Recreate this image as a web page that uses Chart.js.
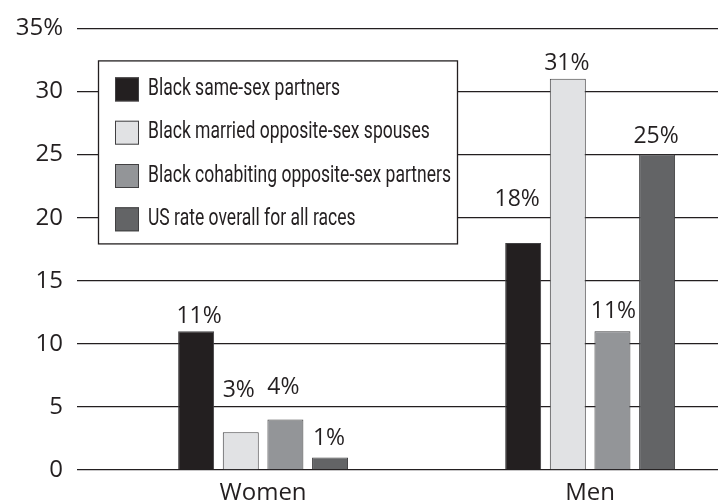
<!DOCTYPE html>
<html>
<head>
<meta charset="utf-8">
<script src="https://cdn.jsdelivr.net/npm/chart.js@4.4.1/dist/chart.umd.min.js"></script>
<style>
  html, body { margin: 0; padding: 0; background: #fff; }
</style>
</head>
<body>
<canvas id="grafico" width="718" height="502"></canvas>
<script>
const grupos = ["Women", "Men"];
const series = [
  "Black same-sex partners",
  "Black married opposite-sex spouses",
  "Black cohabiting opposite-sex partners",
  "US rate overall for all races"
];
const sameSex = [11, 18];
const married = [3, 31];
const cohabiting = [4, 11];
const usOverall = [1, 25];
const yTicks = [0, 5, 10, 15, 20, 25, 30, 35];

const valores = [sameSex, married, cohabiting, usOverall];
const colores = ["#231f20", "#e1e2e4", "#939598", "#636466"];
// how far each % label sits above its bar: [dx, lift]
const etiquetaPos = [
  [[3, 15], [-6, 43]],
  [[-2, 42], [-1, 15]],
  [[-2, 32], [1, 20]],
  [[-1, 19], [-1, 18]]
];
const tinta = "#231f20";
const fuenteNum = "'Open Sans', 'Noto Sans', sans-serif";
const fuenteLeyenda = "Roboto, 'Noto Sans', sans-serif";

const etiquetas = {
  id: "etiquetas",
  afterDatasetsDraw(chart) {
    const ctx = chart.ctx;
    ctx.save();
    ctx.font = "23px " + fuenteNum;
    ctx.fillStyle = tinta;
    ctx.textAlign = "center";
    ctx.textBaseline = "middle";
    chart.data.datasets.forEach((ds, i) => {
      chart.getDatasetMeta(i).data.forEach((bar, j) => {
        const [dx, dy] = etiquetaPos[i][j];
        ctx.fillText(ds.data[j].y + "%", bar.x + dx, bar.y - dy);
      });
    });
    ctx.restore();
  }
};

const leyenda = {
  id: "leyendaCaja",
  afterDraw(chart) {
    const ctx = chart.ctx;
    const x0 = chart.chartArea.left + 21;
    const y0 = chart.chartArea.top + 32;
    ctx.save();
    ctx.fillStyle = "#fff";
    ctx.fillRect(x0, y0, 360, 184);
    ctx.strokeStyle = tinta;
    ctx.lineWidth = 1.3;
    ctx.strokeRect(x0 + 0.5, y0 + 0.5, 359, 183);
    ctx.font = "23px " + fuenteLeyenda;
    ctx.textBaseline = "middle";
    // condensed look: squeeze so the longest entry fits the box
    const mas = Math.max(...chart.data.datasets.map(d => ctx.measureText(d.label).width));
    const k = Math.min(1, 303 / mas);
    chart.data.datasets.forEach((ds, i) => {
      const y = y0 + 17 + i * 43.3;
      ctx.fillStyle = ds.backgroundColor;
      ctx.fillRect(x0 + 17, y, 24, 24);
      ctx.strokeStyle = "#414042";
      ctx.lineWidth = 1;
      ctx.strokeRect(x0 + 17.5, y + 0.5, 23, 23);
      ctx.fillStyle = tinta;
      ctx.save();
      ctx.translate(x0 + 50, y + 12);
      ctx.scale(k, 1);
      ctx.fillText(ds.label, 0, 0);
      ctx.restore();
    });
    ctx.restore();
  }
};

new Chart(document.getElementById("grafico"), {
  type: "bar",
  data: {
    datasets: series.map((nombre, i) => ({
      label: nombre,
      data: valores[i].map((v, j) => ({ x: j, y: v })),
      backgroundColor: colores[i],
      borderColor: "#414042",
      borderWidth: 1,
      categoryPercentage: 0.546,
      barPercentage: 0.806
    }))
  },
  options: {
    responsive: false,
    animation: false,
    layout: { padding: { top: 25, right: 0, left: 0, bottom: 0 } },
    plugins: { legend: { display: false }, tooltip: { enabled: false } },
    scales: {
      x: {
        type: "linear",
        offset: false,
        min: -0.569,
        max: 1.391,
        afterBuildTicks: s => { s.ticks = grupos.map((g, i) => ({ value: i })); },
        afterFit: s => { s.height = 32; },
        ticks: {
          callback: v => grupos[v],
          color: tinta,
          font: { family: fuenteNum, size: 24 },
          padding: 1,
          maxRotation: 0
        },
        grid: { display: false },
        border: { display: false }
      },
      y: {
        min: 0,
        max: 35,
        afterBuildTicks: s => { s.ticks = yTicks.map(v => ({ value: v })); },
        afterFit: s => { s.width = 77; },
        ticks: {
          callback: v => (v === 35 ? "35%" : v),
          color: tinta,
          font: { family: fuenteNum, size: 24 },
          padding: 14
        },
        grid: { color: tinta, lineWidth: 1.3, drawTicks: false },
        border: { display: false }
      }
    }
  },
  plugins: [etiquetas, leyenda]
});
</script>
</body>
</html>
